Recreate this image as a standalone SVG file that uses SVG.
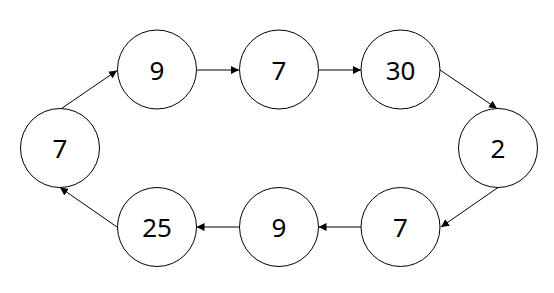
<svg xmlns="http://www.w3.org/2000/svg" width="554" height="293" viewBox="0 0 554 293">
<style>
.n circle{fill:#fff;stroke:#000;stroke-width:1}
.n text{font-family:"Noto Sans","DejaVu Sans",sans-serif;font-size:26px;fill:#000;text-anchor:middle;dominant-baseline:central}
.e line{stroke:#000;stroke-width:1;marker-end:url(#a)}
</style>
<defs>
<marker id="a" viewBox="0 0 10 10" refX="10" refY="5" markerWidth="8" markerHeight="8" markerUnits="userSpaceOnUse" orient="auto">
<path d="M0,0 L10,5 L0,10 Z" fill="#000"/>
</marker>
</defs>
<rect width="554" height="293" fill="#fff"/>
<g id="edges" class="e">
<line x1="61.5" y1="108.5" x2="117" y2="70.5"/>
<line x1="197" y1="70" x2="239" y2="70"/>
<line x1="318.5" y1="70" x2="361" y2="70"/>
<line x1="440" y1="70" x2="497" y2="108.5"/>
<line x1="498" y1="187.5" x2="441" y2="227"/>
<line x1="361" y1="227" x2="318.5" y2="227"/>
<line x1="239" y1="227" x2="196.5" y2="227"/>
<line x1="117" y1="227" x2="60" y2="187.5"/>
</g>
<g id="n1" class="n"><circle cx="60" cy="148" r="39.5"/><text x="60" y="148">7</text></g>
<g id="n2" class="n"><circle cx="157" cy="69.5" r="39.5"/><text x="157" y="69.5">9</text></g>
<g id="n3" class="n"><circle cx="279" cy="69.5" r="39.5"/><text x="279" y="69.5">7</text></g>
<g id="n4" class="n"><circle cx="400.5" cy="69.5" r="39.5"/><text x="400.5" y="69.5">30</text></g>
<g id="n5" class="n"><circle cx="498" cy="148" r="39.5"/><text x="498" y="148">2</text></g>
<g id="n6" class="n"><circle cx="400.5" cy="227" r="39.5"/><text x="400.5" y="227">7</text></g>
<g id="n7" class="n"><circle cx="279" cy="227" r="39.5"/><text x="279" y="227">9</text></g>
<g id="n8" class="n"><circle cx="157" cy="227" r="39.5"/><text x="157" y="227">25</text></g>
</svg>
